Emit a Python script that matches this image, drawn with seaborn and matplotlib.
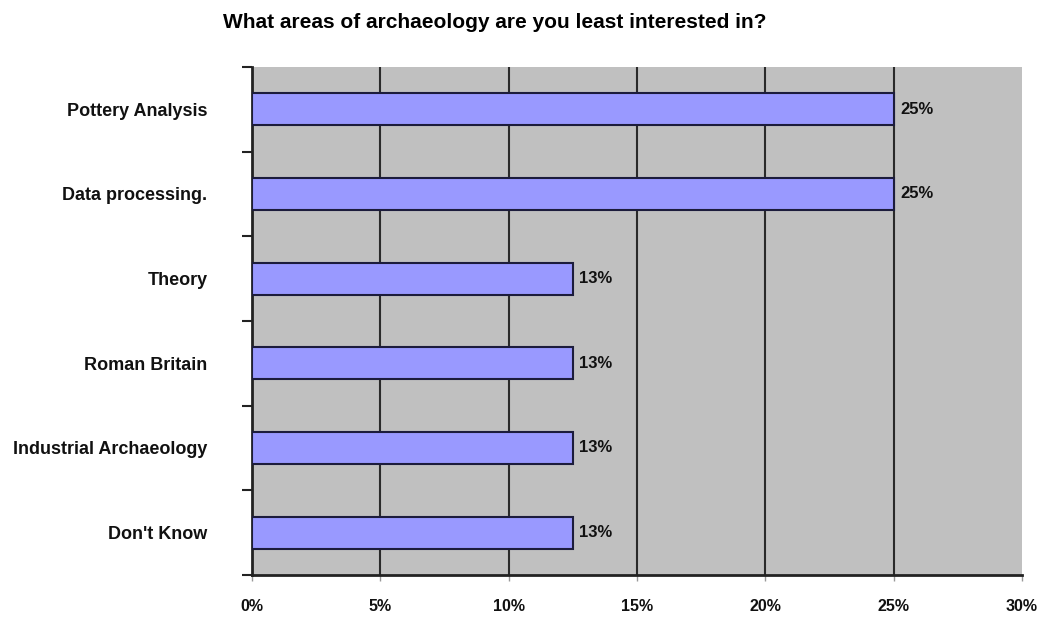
import matplotlib
matplotlib.use("Agg")
import matplotlib.pyplot as plt
import seaborn as sns
import numpy as np

categories = ["Pottery Analysis", "Data processing.", "Theory", "Roman Britain",
              "Industrial Archaeology", "Don't Know"]
values = [25, 25, 12.5, 12.5, 12.5, 12.5]
x_ticks = [0, 5, 10, 15, 20, 25, 30]

sns.set_theme(style="white")
plt.rcParams["font.family"] = ["Liberation Sans", "DejaVu Sans"]
plt.rcParams["font.weight"] = "bold"
plt.rcParams["text.color"] = "#111111"
plt.rcParams["xtick.labelcolor"] = "#111111"
plt.rcParams["ytick.labelcolor"] = "#111111"

fig = plt.figure(figsize=(10.4, 6.17), dpi=100)
ax = fig.add_axes([252 / 1040, 1 - 575 / 617, 770 / 1040, 508 / 617])
ax.set_facecolor("#C0C0C0")

sns.barplot(x=values, y=categories, orient="h", color="#9999FF", saturation=1,
            edgecolor="#1c1c3c", linewidth=1.5, width=0.38, ax=ax, zorder=3)

ax.set_xlim(0, 30)
ax.set_ylim(5.5, -0.5)
ax.set_xticks(x_ticks)
ax.set_xticklabels([f"{t}%" for t in x_ticks], fontsize=11.5, fontweight="bold")
ax.tick_params(axis="x", bottom=True, direction="out", length=4, width=1,
               color="#999999", pad=13)

# category labels at centers, tick marks at boundaries
ax.set_yticks(np.arange(len(categories)))
ax.set_yticklabels(categories, fontsize=13, fontweight="bold")
ax.tick_params(axis="y", which="major", left=False, pad=26)
ax.set_yticks(np.arange(len(categories) + 1) - 0.5, minor=True)
ax.tick_params(axis="y", which="minor", left=True, direction="out", length=7,
               width=1.5, color="#222222")

ax.xaxis.grid(True, color="#2a2a2a", linewidth=1.5, zorder=1)
ax.set_axisbelow(True)
ax.get_xgridlines()[-1].set_visible(False)

for s in ["top", "right"]:
    ax.spines[s].set_visible(False)
for s in ["left", "bottom"]:
    ax.spines[s].set_color("#222222")
    ax.spines[s].set_linewidth(2)

ax.set_xlabel("")
ax.set_ylabel("")

for i, v in enumerate(values):
    ax.text(v + 0.25, i, f"{int(np.floor(v + 0.5))}%", va="center", ha="left",
            fontsize=12, fontweight="bold", color="#111111")

fig.text(495 / 1040, 1 - 22 / 617, "What areas of archaeology are you least interested in?",
         ha="center", va="center", fontsize=15, fontweight="bold", color="#000000")

fig.savefig("out.png", dpi=100)
